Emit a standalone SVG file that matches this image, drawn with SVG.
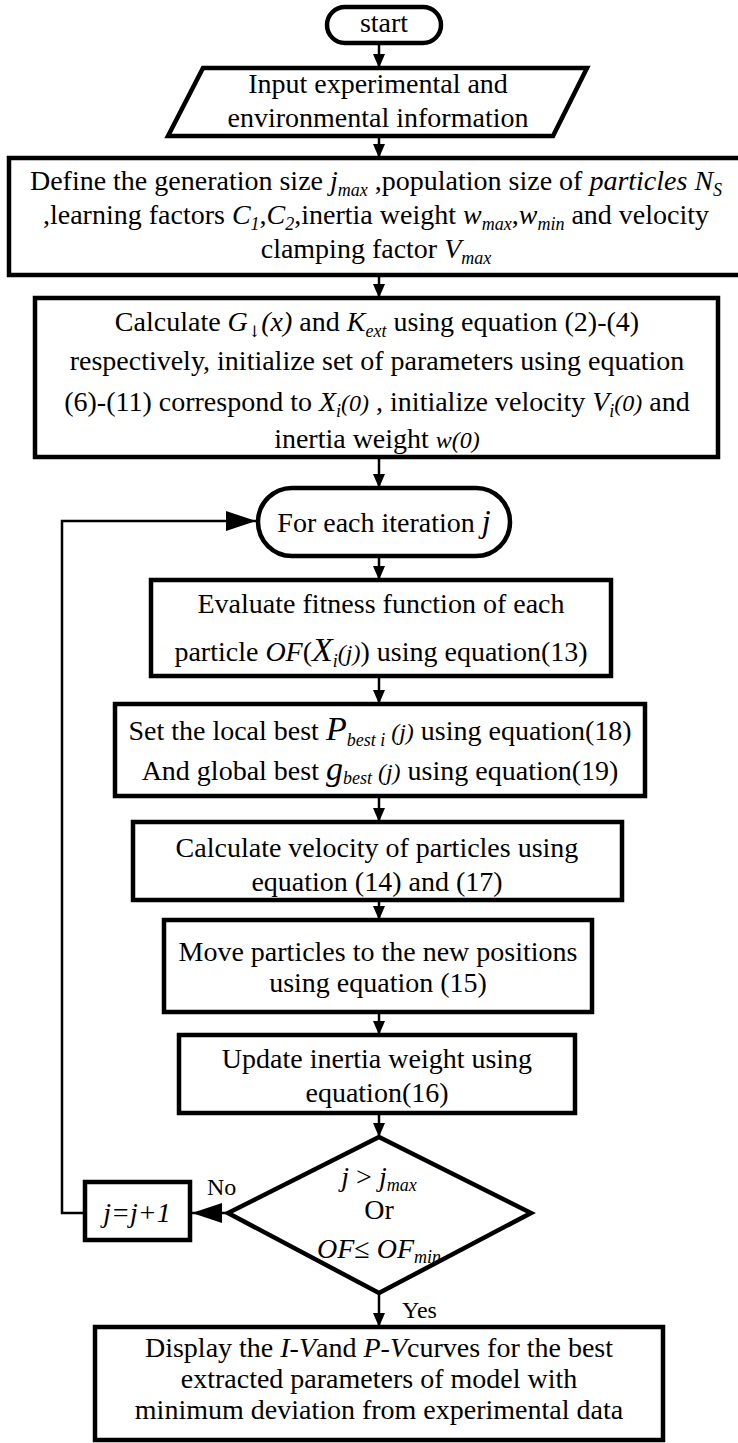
<svg xmlns="http://www.w3.org/2000/svg" width="738" height="1443" viewBox="0 0 738 1443" font-family="Liberation Serif">
<style>
.t{font-size:28px;fill:#000;text-anchor:middle}
.lbl{font-size:24px;fill:#000}
.i{font-style:italic}
.s{font-size:18px;font-style:italic}
.box{fill:#fff;stroke:#000;stroke-width:4.5}
.ln{stroke:#000;stroke-width:2.5;fill:none}
</style>
<defs>
<marker id="ah" markerUnits="userSpaceOnUse" markerWidth="14" markerHeight="12" refX="14" refY="6" orient="auto">
<path d="M0,0 L14,6 L0,12 z" fill="#000"/>
</marker>
<marker id="ahb" markerUnits="userSpaceOnUse" markerWidth="30" markerHeight="20" refX="30" refY="10" orient="auto">
<path d="M0,0 L30,10 L0,20 z" fill="#000"/>
</marker>
</defs>
<rect width="738" height="1443" fill="#fff"/>

<g id="connectors">
<line class="ln" x1="379" y1="43" x2="379" y2="68" marker-end="url(#ah)"/>
<line class="ln" x1="379" y1="136" x2="379" y2="158" marker-end="url(#ah)"/>
<line class="ln" x1="379" y1="275" x2="379" y2="298" marker-end="url(#ah)"/>
<line class="ln" x1="379" y1="457" x2="379" y2="488" marker-end="url(#ah)"/>
<line class="ln" x1="379" y1="556" x2="379" y2="580" marker-end="url(#ah)"/>
<line class="ln" x1="379" y1="676" x2="379" y2="704" marker-end="url(#ah)"/>
<line class="ln" x1="379" y1="796" x2="379" y2="822" marker-end="url(#ah)"/>
<line class="ln" x1="379" y1="900" x2="379" y2="920" marker-end="url(#ah)"/>
<line class="ln" x1="379" y1="1012" x2="379" y2="1035" marker-end="url(#ah)"/>
<line class="ln" x1="379" y1="1113" x2="379" y2="1137" marker-end="url(#ah)"/>
<line class="ln" x1="379" y1="1293" x2="379" y2="1327" marker-end="url(#ah)"/>
<line class="ln" x1="228" y1="1213" x2="192" y2="1213" marker-end="url(#ahb)"/>
<polyline class="ln" points="85,1213 62,1213 62,521 256,521" marker-end="url(#ahb)"/>
<text class="lbl" x="207" y="1195" font-family="Liberation Serif">No</text>
<text class="lbl" x="402" y="1318" font-family="Liberation Serif">Yes</text>
</g>

<g id="start">
<rect class="box" x="327" y="7" width="114" height="36" rx="18"/>
<text class="t" x="384" y="32" font-family="Liberation Serif">start</text>
</g>

<g id="input">
<polygon class="box" points="203,68 587,68 553,136 168,136"/>
<text class="t" x="378" y="93" font-family="Liberation Serif">Input experimental and</text>
<text class="t" x="378" y="127" font-family="Liberation Serif">environmental information</text>
</g>

<g id="define">
<rect class="box" x="9" y="158" width="734" height="117"/>
<text class="t" x="376" y="190" font-family="Liberation Serif">Define the generation size <tspan class="i">j</tspan><tspan class="s" dy="6">max</tspan><tspan dy="-6"> ,population size of </tspan><tspan class="i">particles N</tspan><tspan class="s" dy="6">S</tspan></text>
<text class="t" x="376" y="224" font-family="Liberation Serif">,learning factors <tspan class="i">C</tspan><tspan class="s" dy="6">1</tspan><tspan dy="-6">,</tspan><tspan class="i">C</tspan><tspan class="s" dy="6">2</tspan><tspan dy="-6">,inertia weight </tspan><tspan class="i">w</tspan><tspan class="s" dy="6">max</tspan><tspan dy="-6">,</tspan><tspan class="i">w</tspan><tspan class="s" dy="6">min</tspan><tspan dy="-6"> and velocity</tspan></text>
<text class="t" x="376" y="258" font-family="Liberation Serif">clamping factor <tspan class="i">V</tspan><tspan class="s" dy="6">max</tspan></text>
</g>

<g id="calculate">
<rect class="box" x="35" y="298" width="683" height="159"/>
<text class="t" x="377" y="331" font-family="Liberation Serif">Calculate <tspan class="i">G</tspan><tspan font-size="16" dy="6" font-family="DejaVu Serif">↓</tspan><tspan class="i" dy="-6">(x)</tspan> and <tspan class="i">K</tspan><tspan class="s" dy="6">ext</tspan><tspan dy="-6">  using equation (2)-(4)</tspan></text>
<text class="t" x="377" y="370" font-family="Liberation Serif">respectively, initialize set of parameters using equation</text>
<text class="t" x="377" y="411" font-family="Liberation Serif">(6)-(11) correspond to <tspan class="i">X</tspan><tspan class="s" dy="6">i</tspan><tspan class="i" font-size="24" dy="-6">(0)</tspan> , initialize velocity  <tspan class="i">V</tspan><tspan class="s" dy="6">i</tspan><tspan class="i" font-size="24" dy="-6">(0)</tspan> and</text>
<text class="t" x="377" y="448" font-family="Liberation Serif">inertia weight <tspan class="i" font-size="24">w(0)</tspan></text>
</g>

<g id="iteration">
<rect class="box" x="258" y="488" width="252" height="68" rx="34"/>
<text class="t" x="384" y="532" font-family="Liberation Serif">For each iteration <tspan class="i" font-size="32">j</tspan></text>
</g>

<g id="evaluate">
<rect class="box" x="151" y="580" width="460" height="96"/>
<text class="t" x="381" y="613" font-family="Liberation Serif">Evaluate fitness function of each</text>
<text class="t" x="381" y="661" font-family="Liberation Serif">particle <tspan class="i">OF</tspan>(<tspan class="i" font-size="34">X</tspan><tspan class="s" dy="6">i</tspan><tspan class="i" font-size="24" dy="-6">(j)</tspan>) using equation(13)</text>
</g>

<g id="best">
<rect class="box" x="115" y="704" width="530" height="92"/>
<text class="t" x="380" y="740" font-family="Liberation Serif">Set the local best <tspan class="i" font-size="34">P</tspan><tspan class="s" dy="6">best i</tspan><tspan class="i" font-size="24" dy="-6"> (j)</tspan> using equation(18)</text>
<text class="t" x="380" y="780" font-family="Liberation Serif">And global best  <tspan class="i" font-size="34">g</tspan><tspan class="s" dy="4">best</tspan><tspan class="i" font-size="24" dy="-4"> (j)</tspan> using equation(19)</text>
</g>

<g id="velocity">
<rect class="box" x="133" y="822" width="489" height="78"/>
<text class="t" x="377" y="857" font-family="Liberation Serif">Calculate velocity of particles using</text>
<text class="t" x="377" y="891" font-family="Liberation Serif">equation (14) and (17)</text>
</g>

<g id="move">
<rect class="box" x="164" y="920" width="428" height="92"/>
<text class="t" x="378" y="961" font-family="Liberation Serif">Move particles to the new positions</text>
<text class="t" x="378" y="992" font-family="Liberation Serif">using equation (15)</text>
</g>

<g id="update">
<rect class="box" x="179" y="1035" width="396" height="78"/>
<text class="t" x="377" y="1068" font-family="Liberation Serif">Update inertia weight using</text>
<text class="t" x="377" y="1102" font-family="Liberation Serif">equation(16)</text>
</g>

<g id="decision">
<polygon class="box" points="379,1137 531,1213 379,1293 228,1213"/>
<text class="t" x="379" y="1186" font-family="Liberation Serif"><tspan class="i">j</tspan> &gt; <tspan class="i">j</tspan><tspan class="s" dy="5">max</tspan></text>
<text class="t" x="379" y="1219" font-family="Liberation Serif">Or</text>
<text class="t" x="379" y="1258" font-family="Liberation Serif"><tspan class="i">OF</tspan>≤ <tspan class="i">OF</tspan><tspan class="s" dy="5">min</tspan></text>
</g>

<g id="increment">
<rect class="box" x="85" y="1182" width="105" height="58"/>
<text class="t" x="137" y="1222" font-family="Liberation Serif"><tspan class="i">j=j+1</tspan></text>
</g>

<g id="display">
<rect class="box" x="95" y="1327" width="568" height="113"/>
<text class="t" x="379" y="1357" font-family="Liberation Serif">Display the <tspan class="i">I-V</tspan>and <tspan class="i">P-V</tspan>curves for the best</text>
<text class="t" x="379" y="1388" font-family="Liberation Serif">extracted parameters of model with</text>
<text class="t" x="379" y="1419" font-family="Liberation Serif">minimum deviation from experimental data</text>
</g>
</svg>
